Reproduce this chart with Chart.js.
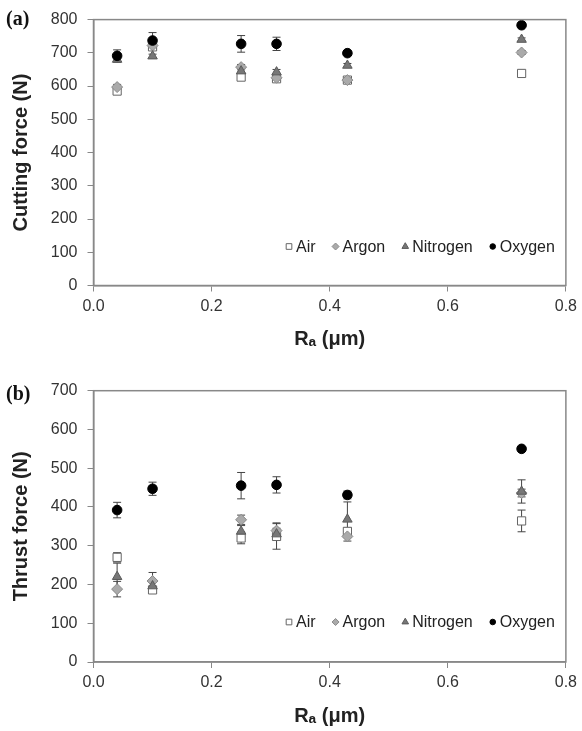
<!DOCTYPE html>
<html>
<head>
<meta charset="utf-8">
<script src="https://cdn.jsdelivr.net/npm/chart.js@4.4.0/dist/chart.umd.min.js"></script>
<style>
  body { margin: 0; background: #fff; }
  .wrap { position: relative; width: 582px; height: 731px; }
  canvas { position: absolute; left: 0; }
  .tag { position: absolute; left: 6px; font: bold 20px "Liberation Serif", serif; color: #111; line-height: 20px; }
</style>
</head>
<body>
<div class="wrap">
  <canvas id="chartA" width="582" height="351" style="top:0"></canvas>
  <canvas id="chartB" width="582" height="380" style="top:351px"></canvas>
  <div class="tag" style="top:8px">(a)</div>
  <div class="tag" style="top:383px">(b)</div>
</div>
<script>
// surface roughness Ra (um) of each test
const ra = [0.04, 0.10, 0.25, 0.31, 0.43, 0.725];
const gases = ['Air', 'Argon', 'Nitrogen', 'Oxygen'];

// (a) cutting force (N) and error
const airCut = [585, 718, 627, 622, 618, 638];
const airCutErr = [8, 10, 10, 8, 6, 10];
const argonCut = [597, 722, 657, 625, 618, 701];
const argonCutErr = [8, 10, 8, 6, 6, 6];
const nitroCut = [680, 690, 645, 642, 662, 740];
const nitroCutErr = [8, 6, 8, 8, 6, 5];
const oxyCut = [691, 737, 727, 727, 699, 783];
const oxyCutErr = [18, 24, 25, 20, 6, 4];

// (b) thrust force (N) and error
const airThr = [270, 186, 320, 324, 337, 364];
const airThrErr = [12, 8, 15, 33, 10, 28];
const argonThr = [188, 209, 367, 339, 324, 436];
const argonThrErr = [20, 22, 12, 20, 12, 10];
const nitroThr = [220, 196, 337, 330, 368, 440];
const nitroThrErr = [35, 12, 15, 15, 45, 30];
const oxyThr = [392, 447, 455, 457, 431, 550];
const oxyThrErr = [20, 17, 34, 21, 10, 5];

const xTicks = [0, 0.2, 0.4, 0.6, 0.8];

const styles = {
  Air:      { pointStyle: 'rect',     radius: 5.8, bg: '#ffffff', border: '#666', lr: 4 },
  Argon:    { pointStyle: 'rectRot',  radius: 5.5, bg: '#aaaaaa', border: '#8a8a8a', lr: 3.5 },
  Nitrogen: { pointStyle: 'triangle', radius: 5.5, bg: '#777777', border: '#5a5a5a', lr: 3.8 },
  Oxygen:   { pointStyle: 'circle',   radius: 4.8, bg: '#000000', border: '#000', lr: 2.8 }
};
const FONT = '"Liberation Sans", Arial, sans-serif';

function makeSet(name, ys, errs, order) {
  const s = styles[name];
  return {
    label: name,
    data: ra.map((x, i) => ({ x: x, y: ys[i] })),
    errors: errs,
    pointStyle: s.pointStyle,
    pointRadius: s.radius,
    pointHoverRadius: s.radius,
    backgroundColor: s.bg,
    borderColor: s.border,
    borderWidth: 1,
    showLine: false,
    order: order
  };
}

const errorBars = {
  id: 'errorBars',
  beforeDatasetsDraw(chart) {
    const ctx = chart.ctx;
    const y = chart.scales.y;
    ctx.save();
    ctx.strokeStyle = '#444';
    ctx.lineWidth = 1;
    chart.data.datasets.forEach((ds, di) => {
      const meta = chart.getDatasetMeta(di);
      meta.data.forEach((pt, i) => {
        const v = ds.data[i].y, e = ds.errors[i];
        const top = y.getPixelForValue(v + e), bot = y.getPixelForValue(v - e);
        ctx.beginPath();
        ctx.moveTo(pt.x, top); ctx.lineTo(pt.x, bot);
        ctx.moveTo(pt.x - 4, top); ctx.lineTo(pt.x + 4, top);
        ctx.moveTo(pt.x - 4, bot); ctx.lineTo(pt.x + 4, bot);
        ctx.stroke();
      });
    });
    ctx.restore();
  }
};

const frame = {
  id: 'frame',
  afterDraw(chart) {
    const a = chart.chartArea, ctx = chart.ctx;
    ctx.save();
    ctx.strokeStyle = '#888';
    ctx.lineWidth = 1.5;
    ctx.strokeRect(a.left, a.top, a.right - a.left, a.bottom - a.top);
    ctx.restore();
  }
};

const innerLegend = {
  id: 'innerLegend',
  afterDraw(chart) {
    const ctx = chart.ctx, a = chart.chartArea;
    ctx.save();
    ctx.font = '16px ' + FONT;
    ctx.textBaseline = 'middle';
    ctx.textAlign = 'left';
    const cy = a.bottom - chart.options.plugins.innerLegend.offset;
    const mark = 6, gapText = 4, gapItem = 17;
    let x = a.right - 11;
    const items = chart.data.datasets.slice().reverse();
    items.forEach((ds) => {
      const w = ctx.measureText(ds.label).width;
      x -= w;
      ctx.fillStyle = '#222';
      ctx.fillText(ds.label, x, cy + 1);
      x -= gapText + mark / 2;
      const s = styles[ds.label];
      ctx.fillStyle = s.bg;
      ctx.strokeStyle = s.border;
      ctx.lineWidth = 1;
      Chart.helpers.drawPoint(ctx, { pointStyle: s.pointStyle, radius: s.lr, borderWidth: 1 }, x, cy);
      x -= mark / 2 + gapItem;
    });
    ctx.restore();
  }
};

function makeChart(id, sets, yMax, yTitle, pad, xHeight, titlePadBottom, legendOffset) {
  return new Chart(document.getElementById(id), {
    type: 'scatter',
    data: { datasets: sets },
    options: {
      responsive: false,
      devicePixelRatio: 1,
      animation: false,
      layout: { padding: pad },
      plugins: {
        legend: { display: false },
        tooltip: { enabled: false },
        innerLegend: { offset: legendOffset }
      },
      scales: {
        x: {
          type: 'linear', min: 0, max: 0.8,
          afterBuildTicks: (s) => { s.ticks = xTicks.map(v => ({ value: v })); },
          afterFit: (s) => { s.height = xHeight; },
          grid: { drawOnChartArea: false, drawTicks: true, tickLength: 6, color: '#888' },
          border: { color: '#888', width: 1.5 },
          ticks: { color: '#333', padding: 5, font: { family: FONT, size: 16 },
                   callback: (v) => v.toFixed(1) },
          title: { display: true, text: 'Rₐ (μm)', color: '#222',
                   font: { family: FONT, size: 20, weight: 'bold' },
                   padding: { top: 0, bottom: titlePadBottom } }
        },
        y: {
          min: 0, max: yMax,
          afterFit: (s) => { s.width = 93.5; },
          grid: { drawOnChartArea: false, drawTicks: true, tickLength: 6, color: '#888' },
          border: { color: '#888', width: 1.5 },
          ticks: { stepSize: 100, color: '#333', padding: 10, font: { family: FONT, size: 16 } },
          title: { display: true, text: yTitle, color: '#222',
                   font: { family: FONT, size: 20, weight: 'bold' },
                   padding: { top: 9, bottom: 0 } }
        }
      }
    },
    plugins: [errorBars, frame, innerLegend]
  });
}

makeChart('chartA', [
  makeSet('Air', airCut, airCutErr, 4),
  makeSet('Argon', argonCut, argonCutErr, 3),
  makeSet('Nitrogen', nitroCut, nitroCutErr, 2),
  makeSet('Oxygen', oxyCut, oxyCutErr, 1)
], 800, 'Cutting force (N)', { top: 17, right: 14, bottom: 0, left: 0 }, 65.5, 0, 39);

makeChart('chartB', [
  makeSet('Air', airThr, airThrErr, 4),
  makeSet('Argon', argonThr, argonThrErr, 3),
  makeSet('Nitrogen', nitroThr, nitroThrErr, 2),
  makeSet('Oxygen', oxyThr, oxyThrErr, 1)
], 700, 'Thrust force (N)', { top: 39.7, right: 14, bottom: 0, left: 0 }, 69, 3, 40);
</script>
</body>
</html>
